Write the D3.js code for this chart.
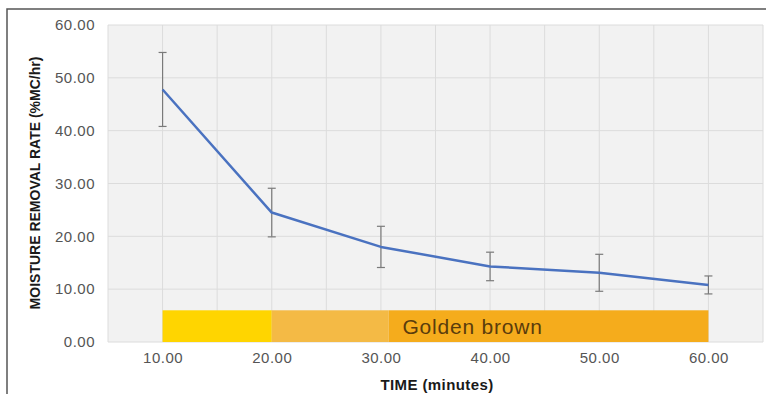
<!DOCTYPE html>
<html>
<head>
<meta charset="utf-8">
<script src="https://cdn.jsdelivr.net/npm/d3@7"></script>
<style>
  body { margin: 0; background: #fff; }
  text { font-family: Arial, "Liberation Sans", sans-serif; }
  .tick text { fill: #555; font-size: 15px; letter-spacing: 0.5px; }
</style>
</head>
<body>
<svg id="chart"></svg>
<script>
// data
const times = [10, 20, 30, 40, 50, 60];
const rates = [47.8, 24.5, 18.0, 14.3, 13.1, 10.8];
const errs = [7.0, 4.6, 3.9, 2.7, 3.5, 1.7];

const yTicks = [0, 10, 20, 30, 40, 50, 60];
const xTicks = [10, 20, 30, 40, 50, 60];
const xGrid = [5, 10, 15, 20, 25, 30, 35, 40, 45, 50, 55, 60, 65];

// colour band under the curve
const bandStart = [10, 20, 30.7];
const bandEnd = [20, 30.7, 60];
const bandColor = ['#ffd500', '#f4ba45', '#f5ac1c'];
const bandTop = 6;
const bandLabel = 'Golden brown';
const bandLabelX = 38.4;

const W = 766, H = 394;
const margin = {top: 25, right: 3, bottom: 52, left: 108};
const width = W - margin.left - margin.right;
const height = H - margin.top - margin.bottom;

const svg = d3.select('#chart').attr('width', W).attr('height', H);

// outer frame (top + left edges visible)
svg.append('path')
    .attr('d', `M7,${H} L7,9 L${W},9`)
    .attr('fill', 'none')
    .attr('stroke', '#555')
    .attr('stroke-width', 1.5);

const chart = svg.append('g')
    .attr('transform', `translate(${margin.left},${margin.top})`);

const x = d3.scaleLinear().domain([5, 65]).range([0, width]);
const y = d3.scaleLinear().domain([0, 60]).range([height, 0]);

// plot background
chart.append('rect')
    .attr('width', width)
    .attr('height', height)
    .attr('fill', '#f2f2f2');

// gridlines
chart.append('g')
  .selectAll('line')
  .data(xGrid)
  .join('line')
    .attr('x1', d => x(d)).attr('x2', d => x(d))
    .attr('y1', 0).attr('y2', height)
    .attr('stroke', '#dcdcdc');

chart.append('g')
  .selectAll('line')
  .data(yTicks)
  .join('line')
    .attr('x1', 0).attr('x2', width)
    .attr('y1', d => y(d)).attr('y2', d => y(d))
    .attr('stroke', '#dcdcdc');

// axes (labels only)
const xAxis = d3.axisBottom(x).tickValues(xTicks).tickSize(0).tickPadding(10).tickFormat(d3.format('.2f'));
const yAxis = d3.axisLeft(y).tickValues(yTicks).tickSize(0).tickPadding(13).tickFormat(d3.format('.2f'));

chart.append('g')
    .attr('transform', `translate(0,${height})`)
    .call(xAxis)
    .call(g => g.select('.domain').remove());

chart.append('g')
    .call(yAxis)
    .call(g => g.select('.domain').remove());

// band
chart.append('g')
  .selectAll('rect')
  .data(bandStart)
  .join('rect')
    .attr('x', (d, i) => x(d))
    .attr('width', (d, i) => x(bandEnd[i]) - x(d))
    .attr('y', y(bandTop))
    .attr('height', y(0) - y(bandTop))
    .attr('fill', (d, i) => bandColor[i]);

chart.append('text')
    .attr('x', x(bandLabelX))
    .attr('y', y(bandTop / 2))
    .attr('dy', '0.36em')
    .attr('text-anchor', 'middle')
    .attr('fill', '#5a3c0c')
    .style('font-size', '21px')
    .style('letter-spacing', '0.8px')
    .text(bandLabel);

// error bars
const eb = chart.append('g')
    .attr('stroke', '#7a7a7a')
    .attr('stroke-width', 1.2);

times.forEach((t, i) => {
  const cx = x(t), hi = y(rates[i] + errs[i]), lo = y(rates[i] - errs[i]);
  eb.append('line').attr('x1', cx).attr('x2', cx).attr('y1', hi).attr('y2', lo);
  eb.append('line').attr('x1', cx - 4).attr('x2', cx + 4).attr('y1', hi).attr('y2', hi);
  eb.append('line').attr('x1', cx - 4).attr('x2', cx + 4).attr('y1', lo).attr('y2', lo);
});

// line
const line = d3.line()
    .x((d, i) => x(times[i]))
    .y(d => y(d));

chart.append('path')
    .datum(rates)
    .attr('d', line)
    .attr('fill', 'none')
    .attr('stroke', '#4a72c0')
    .attr('stroke-width', 2.5)
    .attr('stroke-linejoin', 'round');

// axis titles
svg.append('text')
    .attr('x', 437)
    .attr('y', 390)
    .attr('text-anchor', 'middle')
    .attr('fill', '#1a1a1a')
    .style('font-size', '15px')
    .style('font-weight', 'bold')
    .style('letter-spacing', '0.4px')
    .text('TIME (minutes)');

svg.append('text')
    .attr('transform', 'translate(40,183) rotate(-90)')
    .attr('text-anchor', 'middle')
    .attr('fill', '#1a1a1a')
    .style('font-size', '14px')
    .style('font-weight', 'bold')
    .text('MOISTURE REMOVAL RATE (%MC/hr)');
</script>
</body>
</html>
